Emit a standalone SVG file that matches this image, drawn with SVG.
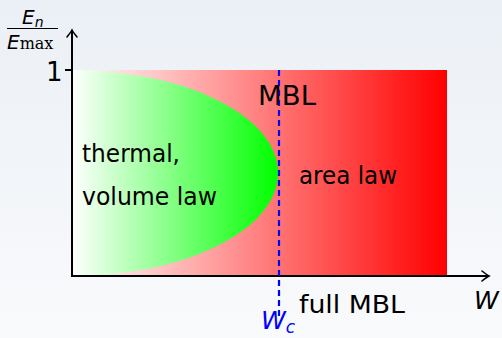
<svg xmlns="http://www.w3.org/2000/svg" width="502" height="338" viewBox="0 0 502 338">
<defs>
<linearGradient id="bg" x1="0" y1="0" x2="0" y2="1"><stop offset="0" stop-color="#ebf0f6"/><stop offset="1" stop-color="#f9fafc"/></linearGradient>
<linearGradient id="red" gradientUnits="userSpaceOnUse" x1="72" y1="0" x2="447" y2="0"><stop offset="0" stop-color="#ffffff"/><stop offset="1" stop-color="#ff0000"/></linearGradient>
<linearGradient id="green" gradientUnits="userSpaceOnUse" x1="72" y1="0" x2="278" y2="0"><stop offset="0" stop-color="#ffffff"/><stop offset="1" stop-color="#00ff00"/></linearGradient>
<marker id="arr" viewBox="-10 -6 12 12" refX="0" refY="0" markerWidth="12" markerHeight="12" markerUnits="userSpaceOnUse" orient="auto">
<path d="M-7,-5 Q-2,-1 0,0 Q-2,1 -7,5" fill="none" stroke="#000" stroke-width="1.6" stroke-linecap="round"/>
</marker>
<style>
.t{font-family:"DejaVu Sans",sans-serif;font-size:24px;fill:#000}
.m{font-family:"DejaVu Sans",sans-serif;font-style:italic}
.r{font-family:"DejaVu Serif",serif}
</style>
</defs>
<rect width="502" height="338" fill="url(#bg)"/>
<g id="regions">
<rect id="mbl-region" x="72" y="70" width="375" height="206" fill="url(#red)"/>
<path id="thermal-region" d="M72,70 A206,103 0 0 1 72,276 Z" fill="url(#green)"/>
</g>
<g id="connectors" fill="none" stroke="#000" stroke-width="2">
<line x1="72" y1="277" x2="72" y2="30" marker-end="url(#arr)"/>
<line x1="71" y1="276" x2="489" y2="276" marker-end="url(#arr)"/>
<line x1="65" y1="70" x2="72" y2="70"/>
<line id="wc-line" x1="279" y1="70" x2="279" y2="316" stroke="#0000ff" stroke-width="2.2" stroke-dasharray="6,4"/>
</g>
<g id="labels">
<text class="t" x="46" y="81" style="font-size:26px">1</text>
<text class="t" x="258" y="105" style="font-size:26px" textLength="58" lengthAdjust="spacingAndGlyphs">MBL</text>
<text class="t" x="82" y="162" textLength="98" lengthAdjust="spacingAndGlyphs">thermal,</text>
<text class="t" x="82" y="205" textLength="135" lengthAdjust="spacingAndGlyphs">volume law</text>
<text class="t" x="299" y="184" textLength="98" lengthAdjust="spacingAndGlyphs">area law</text>
<text class="t" x="299" y="313" textLength="106" lengthAdjust="spacingAndGlyphs">full MBL</text>
<text class="m" x="474" y="309" font-size="25">W</text>
<text class="m" x="261" y="329" font-size="25" fill="#0000ff">W<tspan font-size="17" dy="4">c</tspan></text>
<text class="m" x="22" y="24" font-size="20">E<tspan font-size="14" dy="3">n</tspan></text>
<line x1="7" y1="28.5" x2="58" y2="28.5" stroke="#000" stroke-width="1.2"/>
<text x="7" y="49" font-size="20"><tspan class="m">E</tspan><tspan class="r" font-size="16">max</tspan></text>
</g>
</svg>
